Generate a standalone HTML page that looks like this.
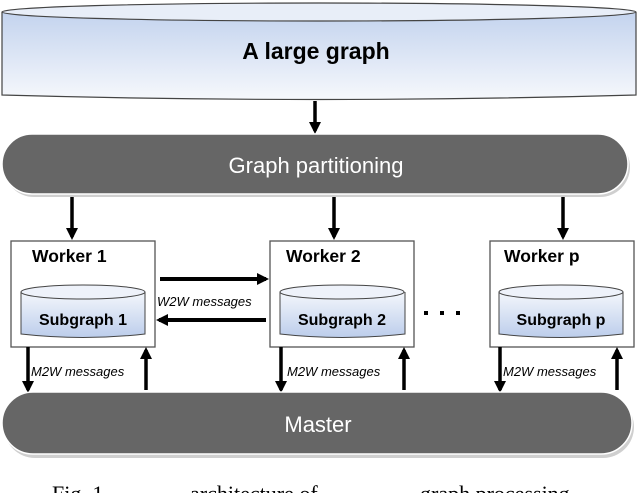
<!DOCTYPE html>
<html><head><meta charset="utf-8"><style>
html,body{margin:0;padding:0;background:#fff;width:640px;height:493px;overflow:hidden}
svg{display:block}
</style></head><body>
<svg width="640" height="493" viewBox="0 0 640 493" xmlns="http://www.w3.org/2000/svg">
<defs>
<linearGradient id="bg1" x1="0" y1="0" x2="0" y2="1">
<stop offset="0" stop-color="#c3d3ee"/><stop offset="1" stop-color="#f6f8fc"/>
</linearGradient>
<linearGradient id="bg2" x1="0" y1="0" x2="0" y2="1">
<stop offset="0" stop-color="#f4f7fc"/><stop offset="1" stop-color="#bccdeb"/>
</linearGradient>
<marker id="ah" markerWidth="12" markerHeight="12" refX="9" refY="6" orient="auto" markerUnits="userSpaceOnUse">
<path d="M0,0 L12,6 L0,12 Z" fill="#000"/>
</marker>
</defs>
<g font-family="Liberation Sans, Arial, sans-serif">
<path d="M2,12 L2,95 Q320,104 636,95 L636,12" fill="url(#bg1)" stroke="#444" stroke-width="1.2"/>
<ellipse cx="319" cy="12" rx="317" ry="9" fill="#e8eef8" stroke="#444" stroke-width="1.2"/>
<text x="316" y="59" font-size="23" font-weight="bold" text-anchor="middle" fill="#000">A large graph</text>
<line x1="315" y1="101" x2="315" y2="131" stroke="#000" stroke-width="3.5" marker-end="url(#ah)"/>
<rect x="4" y="137" width="626" height="60" rx="30" fill="#cfcfcf"/>
<rect x="2" y="134" width="626" height="60" rx="30" fill="#666" stroke="#fff" stroke-width="1.5"/>
<text x="316" y="173" font-size="22" text-anchor="middle" fill="#fff">Graph partitioning</text>
<line x1="72" y1="197" x2="72" y2="237" stroke="#000" stroke-width="3.5" marker-end="url(#ah)"/>
<line x1="334" y1="197" x2="334" y2="237" stroke="#000" stroke-width="3.5" marker-end="url(#ah)"/>
<line x1="563" y1="197" x2="563" y2="237" stroke="#000" stroke-width="3.5" marker-end="url(#ah)"/>
<g stroke="#555" stroke-width="1.3" fill="#fff">
<rect x="11" y="241" width="144" height="106"/>
<rect x="270" y="241" width="144" height="106"/>
<rect x="490" y="241" width="144" height="106"/>
</g>
<g font-size="17.5" font-weight="bold" fill="#000">
<text x="32" y="262">Worker 1</text>
<text x="286" y="262">Worker 2</text>
<text x="504" y="262">Worker p</text>
</g>
<g stroke="#444" stroke-width="1">
<path d="M21,292 L21,334 Q83,341 145,334 L145,292" fill="url(#bg2)"/>
<ellipse cx="83" cy="292" rx="62" ry="7" fill="#eef2fa"/>
<path d="M280,292 L280,334 Q342,341 405,334 L405,292" fill="url(#bg2)"/>
<ellipse cx="342" cy="292" rx="62" ry="7" fill="#eef2fa"/>
<path d="M499,292 L499,334 Q561,341 623,334 L623,292" fill="url(#bg2)"/>
<ellipse cx="561" cy="292" rx="62" ry="7" fill="#eef2fa"/>
</g>
<g font-size="16" font-weight="bold" fill="#000" text-anchor="middle">
<text x="83" y="325">Subgraph 1</text>
<text x="342" y="325">Subgraph 2</text>
<text x="561" y="325">Subgraph p</text>
</g>
<line x1="160" y1="279" x2="266" y2="279" stroke="#000" stroke-width="4" marker-end="url(#ah)"/>
<line x1="266" y1="320" x2="159" y2="320" stroke="#000" stroke-width="4" marker-end="url(#ah)"/>
<text x="157" y="306" font-size="13" font-style="italic" fill="#000">W2W messages</text>
<g fill="#000"><rect x="424" y="311" width="4" height="4"/><rect x="440" y="311" width="4" height="4"/><rect x="456" y="311" width="4" height="4"/></g>
<g stroke="#000" stroke-width="3.5">
<line x1="28" y1="347" x2="28" y2="390" marker-end="url(#ah)"/>
<line x1="146" y1="390" x2="146" y2="350" marker-end="url(#ah)"/>
<line x1="281" y1="347" x2="281" y2="390" marker-end="url(#ah)"/>
<line x1="404" y1="390" x2="404" y2="350" marker-end="url(#ah)"/>
<line x1="500" y1="347" x2="500" y2="390" marker-end="url(#ah)"/>
<line x1="617" y1="390" x2="617" y2="350" marker-end="url(#ah)"/>
</g>
<g font-size="13" font-style="italic" fill="#000">
<text x="31" y="376">M2W messages</text>
<text x="287" y="376">M2W messages</text>
<text x="503" y="376">M2W messages</text>
</g>
<rect x="4" y="396" width="630" height="62" rx="31" fill="#cfcfcf"/>
<rect x="2" y="392" width="630" height="62" rx="31" fill="#666" stroke="#fff" stroke-width="1.5"/>
<text x="318" y="432" font-size="22" text-anchor="middle" fill="#fff">Master</text>
<g font-family="Liberation Serif, serif" font-size="22" fill="#000">
<text x="52" y="501">Fig. 1.</text>
<text x="190" y="501">architecture of</text>
<text x="420" y="501">graph processing</text>
</g>
</g>
</svg>
</body></html>
